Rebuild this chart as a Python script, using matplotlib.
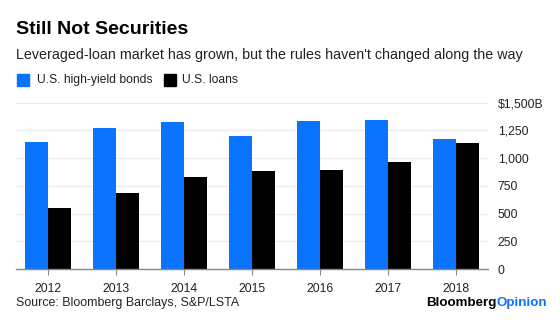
import numpy as np
import matplotlib.pyplot as plt

plt.rcParams['font.family'] = ['Liberation Sans', 'DejaVu Sans']

# Data (billions of USD)
years = ['2012', '2013', '2014', '2015', '2016', '2017', '2018']
high_yield = [1150, 1270, 1329, 1203, 1338, 1345, 1171]
loans = [554, 684, 834, 884, 891, 963, 1134]
y_ticks = [0, 250, 500, 750, 1000, 1250, 1500]
y_labels = ['0', '250', '500', '750', '1,000', '1,250', '$1,500B']

blue = '#0A74FF'
W, H = 560, 331
fig = plt.figure(figsize=(W / 100, H / 100), dpi=100)
ax = fig.add_axes([16 / W, 62 / H, (488 - 16) / W, (269 - 102.7) / H])

x = np.arange(len(years))
bw = 0.34
ax.bar(x - bw / 2, high_yield, width=bw, color=blue, zorder=2)
ax.bar(x + bw / 2, loans, width=bw, color='black', zorder=2)

ax.set_xlim(-0.466, 6.475)
ax.set_ylim(0, 1500)
ax.set_yticks(y_ticks)
ax.set_yticklabels(y_labels)
ax.yaxis.tick_right()
ax.tick_params(axis='y', length=0, pad=7, labelsize=8.8, labelcolor='#222222')
ax.set_xticks(x)
ax.set_xticklabels(years)
ax.tick_params(axis='x', length=4, width=0.8, color='#888888', pad=6,
               labelsize=8.8, labelcolor='#222222')
ax.grid(axis='y', color='#ebebeb', linewidth=0.8, zorder=0)
for s in ['top', 'left', 'right']:
    ax.spines[s].set_visible(False)
ax.spines['bottom'].set_color('#888888')
ax.spines['bottom'].set_linewidth(1.0)
ax.spines['bottom'].set_zorder(3)

# Title, subtitle, legend
fig.text(16 / W, 1 - 30 / H, 'Still Not Securities', fontsize=14,
         fontweight='bold', va='center', ha='left')
fig.text(16 / W, 1 - 54.5 / H,
         "Leveraged-loan market has grown, but the rules haven't changed along the way",
         fontsize=10.25, va='center', ha='left', color='#222222')
fig.patches.append(plt.Rectangle((17 / W, 1 - 86 / H), 11.5 / W, 12 / H,
                                 transform=fig.transFigure, color=blue))
fig.text(37 / W, 1 - 80 / H, 'U.S. high-yield bonds', fontsize=8.7,
         va='center', ha='left', color='#222222')
fig.patches.append(plt.Rectangle((164 / W, 1 - 86 / H), 11.5 / W, 12 / H,
                                 transform=fig.transFigure, color='black'))
fig.text(182 / W, 1 - 80 / H, 'U.S. loans', fontsize=8.7,
         va='center', ha='left', color='#222222')

# Footer
fig.text(16 / W, 1 - 303 / H, 'Source: Bloomberg Barclays, S&P/LSTA',
         fontsize=8.9, va='center', ha='left', color='#222222')
op = fig.text(547 / W, 1 - 303 / H, 'Opinion', fontsize=9.6, fontweight='bold',
              va='center', ha='right', color=blue)
fig.canvas.draw()
bb = op.get_window_extent()
fig.text(bb.x0 / W, 1 - 303 / H, 'Bloomberg', fontsize=9.6, fontweight='bold',
         va='center', ha='right', color='black')

fig.savefig('out.png', dpi=100)
